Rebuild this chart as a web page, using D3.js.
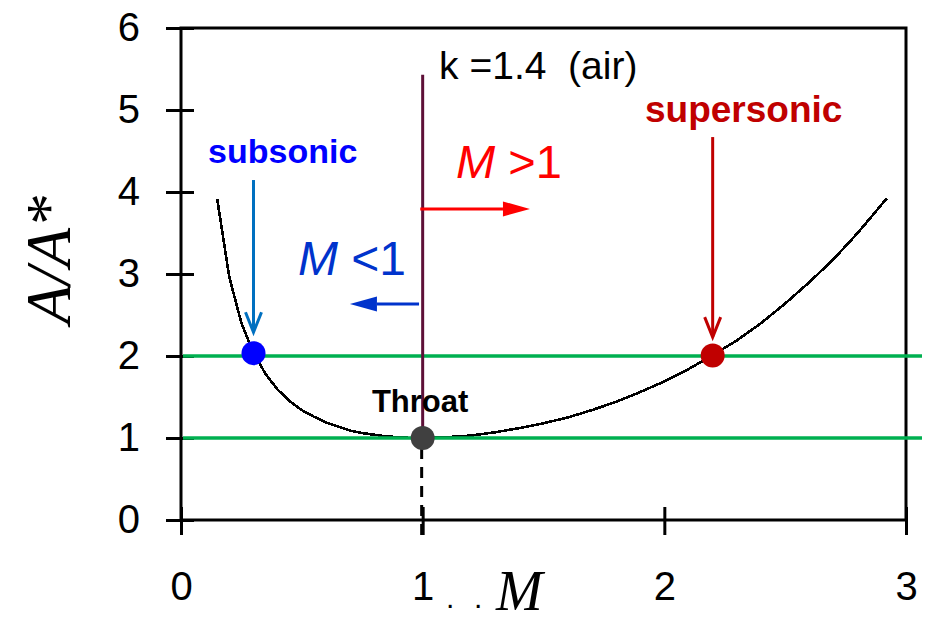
<!DOCTYPE html>
<html>
<head>
<meta charset="utf-8">
<script src="https://cdn.jsdelivr.net/npm/d3@7"></script>
<style>
	html, body { margin: 0; padding: 0; background: #fff; }
	svg { display: block; }
	.tick text { font-family: "Liberation Sans", Arial, sans-serif; font-size: 40px; fill: #000; }
	.note { font-family: "Liberation Sans", Arial, sans-serif; }
	.serif { font-family: "Liberation Serif", "Times New Roman", serif; font-style: italic; }
</style>
</head>
<body>
<div id="canvas"></div>
<script>

// Data
var machNumbers = [0.15, 0.2, 0.25, 0.3, 0.35, 0.4, 0.45, 0.5, 0.55, 0.6, 0.65, 0.7, 0.75, 0.8, 0.85, 0.9, 0.95, 1.0,
	1.1, 1.2, 1.3, 1.4, 1.5, 1.6, 1.7, 1.8, 1.9, 2.0, 2.1, 2.2, 2.3, 2.4, 2.5, 2.6, 2.7, 2.8, 2.9, 2.92];
var areaRatios = [3.91, 2.96, 2.40, 2.04, 1.78, 1.59, 1.45, 1.34, 1.26, 1.19, 1.14, 1.09, 1.06, 1.04, 1.02, 1.01, 1.00, 1.00,
	1.01, 1.03, 1.07, 1.12, 1.18, 1.25, 1.34, 1.44, 1.56, 1.69, 1.84, 2.01, 2.19, 2.40, 2.64, 2.90, 3.18, 3.50, 3.85, 3.92];
var xTicks = [0, 1, 2, 3];
var yTicks = [0, 1, 2, 3, 4, 5, 6];
var levelRatios = [1, 2];
var pointMach = [0.3, 1, 2.2];
var pointRatio = [2.035, 1, 2.005];

// UI
var width = 928,
	height = 623,
	svg = d3.select('#canvas').append('svg').attr('width', width).attr('height', height),
	x = d3.scaleLinear().domain([0, 3]).range([181, 906]),
	y = d3.scaleLinear().domain([0, 6]).range([520, 28]),
	dotColors = ['#0000ff', '#404040', '#c00000'],
	green = '#00b050';

// Frame
svg.append('rect')
	.attr('x', x(0)).attr('y', y(6))
	.attr('width', x(3) - x(0)).attr('height', y(0) - y(6))
	.attr('fill', 'none').attr('stroke', '#000').attr('stroke-width', 3);

// Axes with crossing ticks
var gx = svg.append('g').attr('transform', 'translate(0,' + y(0) + ')')
	.call(d3.axisBottom(x).tickValues(xTicks).tickFormat(d3.format('d')));
gx.select('.domain').remove();
gx.selectAll('.tick line').attr('y1', -13).attr('y2', 15).attr('stroke', '#000').attr('stroke-width', 3);
gx.selectAll('.tick text').attr('y', 80).attr('dy', null);

var gy = svg.append('g').attr('transform', 'translate(' + x(0) + ',0)')
	.call(d3.axisLeft(y).tickValues(yTicks).tickFormat(d3.format('d')));
gy.select('.domain').remove();
gy.selectAll('.tick line').attr('x1', -15).attr('x2', 13).attr('stroke', '#000').attr('stroke-width', 3);
gy.selectAll('.tick text').attr('x', -41).attr('y', 12).attr('dy', null);
gx.attr('font-family', null).attr('font-size', null);
gy.attr('font-family', null).attr('font-size', null);

// Curve
var line = d3.line()
	.x(function(d) { return x(d[0]); })
	.y(function(d) { return y(d[1]); });
svg.append('path')
	.datum(d3.zip(machNumbers, areaRatios))
	.attr('d', line)
	.attr('fill', 'none').attr('stroke', '#000').attr('stroke-width', 2.6)
	.attr('shape-rendering', 'crispEdges');

// Green level lines
svg.selectAll('line.level')
	.data(levelRatios)
	.enter().append('line')
	.attr('class', 'level')
	.attr('x1', x(0) + 2).attr('x2', 922)
	.attr('y1', function(d) { return y(d); }).attr('y2', function(d) { return y(d); })
	.attr('stroke', green).attr('stroke-width', 3.5);

// Throat lines
svg.append('line')
	.attr('x1', x(1)).attr('x2', x(1)).attr('y1', y(5.43)).attr('y2', y(1))
	.attr('stroke', '#5e1038').attr('stroke-width', 3);
svg.append('line')
	.attr('x1', x(1) - 1).attr('x2', x(1) - 1).attr('y1', y(1) + 10).attr('y2', y(0) + 15)
	.attr('stroke', '#000').attr('stroke-width', 3).attr('stroke-dasharray', '11,8');

// Arrows
function arrow(m1, a1, m2, a2, color, filled) {
	var x1 = x(m1), y1 = y(a1), x2 = x(m2), y2 = y(a2),
		ang = Math.atan2(y2 - y1, x2 - x1),
		len = filled ? 27 : 20,
		half = filled ? 7.5 : 8,
		bx = x2 - Math.cos(ang) * len, by = y2 - Math.sin(ang) * len,
		px = -Math.sin(ang) * half, py = Math.cos(ang) * half;
	svg.append('line')
		.attr('x1', x1).attr('y1', y1)
		.attr('x2', filled ? bx : x2).attr('y2', filled ? by : y2)
		.attr('stroke', color).attr('stroke-width', 3);
	if (filled) {
		svg.append('path')
			.attr('d', 'M' + x2 + ',' + y2 + 'L' + (bx + px) + ',' + (by + py) + 'L' + (bx - px) + ',' + (by - py) + 'Z')
			.attr('fill', color);
	} else {
		svg.append('path')
			.attr('d', 'M' + (bx + px) + ',' + (by + py) + 'L' + x2 + ',' + y2 + 'L' + (bx - px) + ',' + (by - py))
			.attr('fill', 'none').attr('stroke', color).attr('stroke-width', 3);
	}
}
arrow(0.3, 4.146, 0.3, 2.29, '#0070c0', false);
arrow(2.2, 4.67, 2.2, 2.23, '#c00000', false);
arrow(0.99, 3.793, 1.444, 3.793, '#ff0000', true);
arrow(0.985, 2.634, 0.699, 2.634, '#0033cc', true);

// Dots
svg.selectAll('circle')
	.data(d3.zip(pointMach, pointRatio))
	.enter().append('circle')
	.attr('cx', function(d) { return x(d[0]); })
	.attr('cy', function(d) { return y(d[1]); })
	.attr('r', 12)
	.attr('fill', function(d, i) { return dotColors[i]; });

// Texts
function note(m, a, str, size, color, weight) {
	return svg.append('text')
		.attr('class', 'note')
		.attr('x', x(m)).attr('y', y(a))
		.attr('font-size', size).attr('fill', color)
		.attr('font-weight', weight || 'normal')
		.style('white-space', 'pre')
		.text(str);
}
note(0.112, 4.354, 'subsonic', 34, '#0000ff', 'bold');
note(1.92, 4.854, 'supersonic', 37, '#c00000', 'bold');
note(0.79, 1.317, 'Throat', 31, '#000', 'bold');
note(1.068, 5.378, 'k =1.4  (air)', 39, '#000');

var tl = note(0.484, 2.988, '', 48, '#0033cc');
tl.append('tspan').attr('font-style', 'italic').text('M');
tl.append('tspan').text(' <1');
var tg = note(1.138, 4.171, '', 47, '#ff0000');
tg.append('tspan').attr('font-style', 'italic').text('M');
tg.append('tspan').text(' >1');

// Axis titles
svg.append('text')
	.attr('class', 'serif')
	.attr('transform', 'translate(70,260) rotate(-90)')
	.attr('text-anchor', 'middle')
	.attr('font-size', 64)
	.text('A/A*');
svg.append('text')
	.attr('class', 'note')
	.attr('font-size', 30)
	.selectAll('tspan')
	.data([446, 474])
	.enter().append('tspan')
	.attr('x', function(d) { return d; })
	.attr('y', 608)
	.text('.');
svg.append('text')
	.attr('class', 'serif')
	.attr('x', 496).attr('y', 610)
	.attr('font-size', 56)
	.text('M');

</script>
</body>
</html>
